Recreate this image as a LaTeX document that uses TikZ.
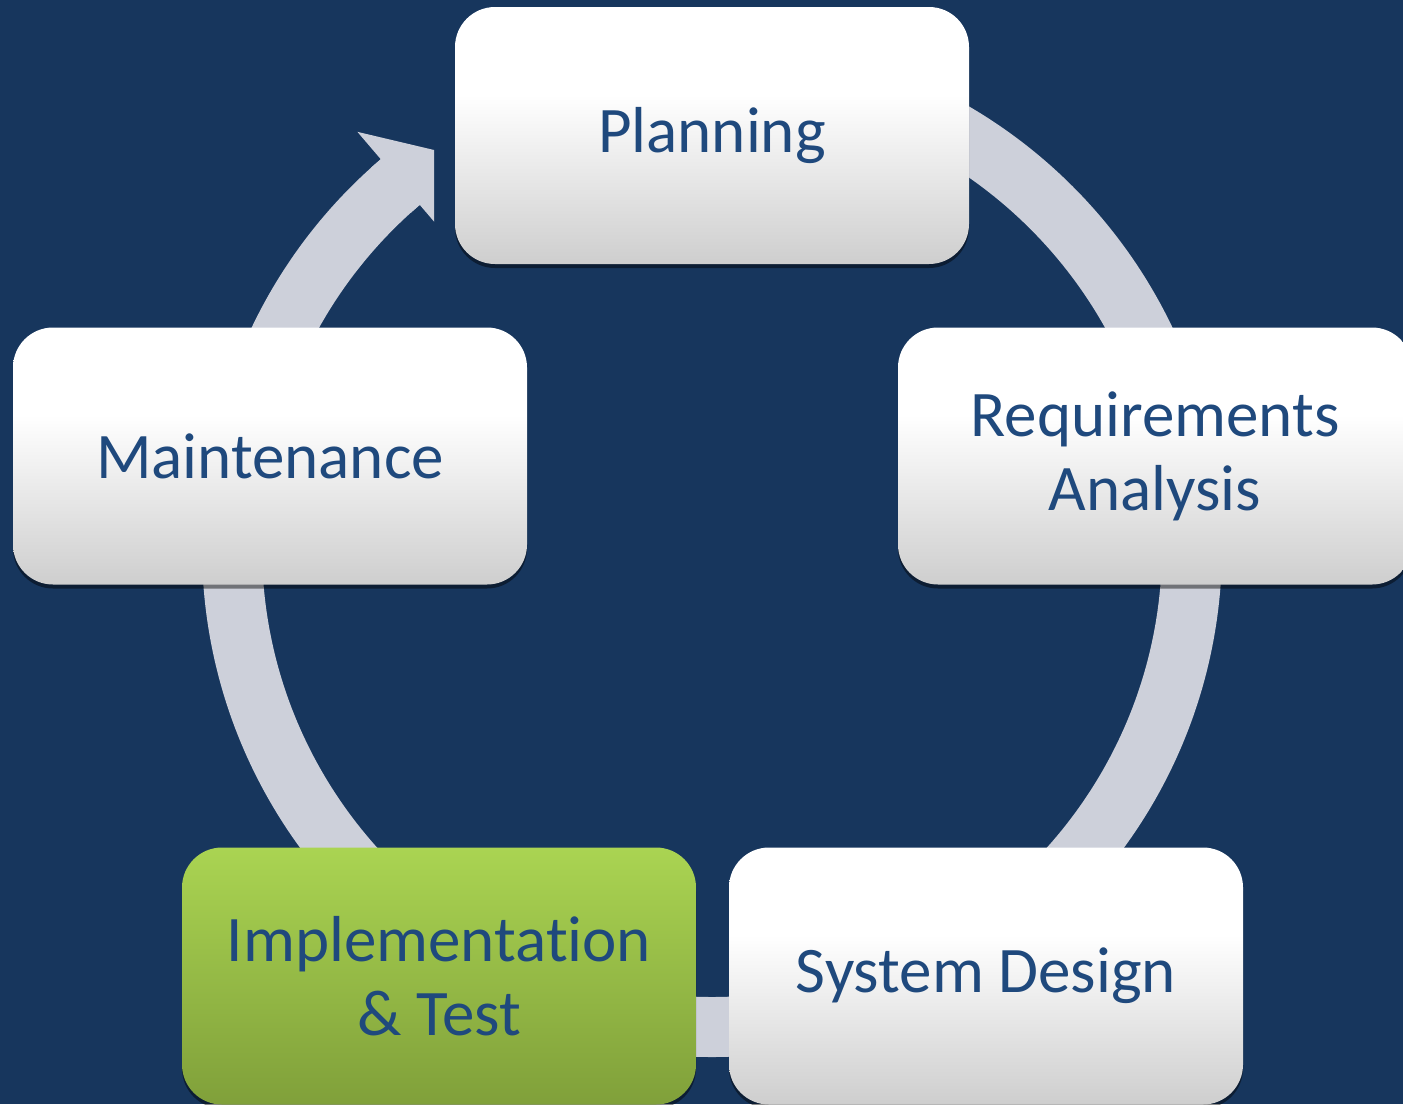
\documentclass[tikz,border=0pt]{standalone}
\usepackage{fontspec}
\setmainfont{Carlito}[Ligatures=NoCommon]
\usetikzlibrary{shadows}

\definecolor{bgblue}{RGB}{23,54,93}
\definecolor{ringgray}{RGB}{205,208,218}
\definecolor{textblue}{RGB}{31,73,125}
\definecolor{boxbottom}{RGB}{206,206,206}
\definecolor{greentop}{RGB}{170,212,82}
\definecolor{greenbottom}{RGB}{128,160,58}

\pgfdeclareverticalshading{whitebox}{100bp}{color(0bp)=(boxbottom); color(25bp)=(boxbottom); color(58bp)=(white); color(100bp)=(white)}
\pgfdeclareverticalshading{greenbox}{100bp}{color(0bp)=(greenbottom); color(25bp)=(greenbottom); color(75bp)=(greentop); color(100bp)=(greentop)}

\begin{document}
\begin{tikzpicture}[x=1pt, y=-1pt,
	stagebox/.style={rounded corners=40pt, minimum width=514pt, minimum height=257pt, inner sep=0pt,
		shade, shading=whitebox, text=textblue, align=center, font=\fontsize{65}{74}\selectfont,
		drop shadow={shadow xshift=0pt, shadow yshift=-4pt, opacity=.45, fill=black}},
	activebox/.style={stagebox, shading=greenbox}]

	% \drawstage#name#x#y#style#label
	\def\drawstage#1#2#3#4#5{
		\node[#4] (#1) at (#2, #3) {#5};
	}

	\useasboundingbox (0, 0) rectangle (1403, 1104);
	\fill[bgblue] (0, 0) rectangle (1403, 1104);

	% ring
	\coordinate (center) at (712, 547);
	\draw[ringgray, line width=60pt] ([shift={(-90:480)}]center) arc[start angle=-90, end angle=229.5, radius=480];

	% head
	\begin{scope}
		\clip (0, 0) rectangle (434, 1104);
		\fill[ringgray] ([shift={(228:450)}]center) -- ([shift={(229.5:450)}]center) -- ([shift={(229.5:414)}]center)
			-- ([shift={(235.5:480)}]center) -- ([shift={(229.5:546)}]center) -- ([shift={(229.5:510)}]center)
			-- ([shift={(228:510)}]center) -- cycle;
	\end{scope}

	% stages
	\drawstage{plan}{712}{135.5}{stagebox}{Planning}
	\drawstage{req}{1155}{456}{stagebox}{Requirements\\Analysis}
	\drawstage{design}{986}{976}{stagebox}{System Design}
	\drawstage{impl}{439}{976}{activebox}{Implementation\\\& Test}
	\drawstage{maint}{270}{456}{stagebox}{Maintenance}
\end{tikzpicture}
\end{document}
